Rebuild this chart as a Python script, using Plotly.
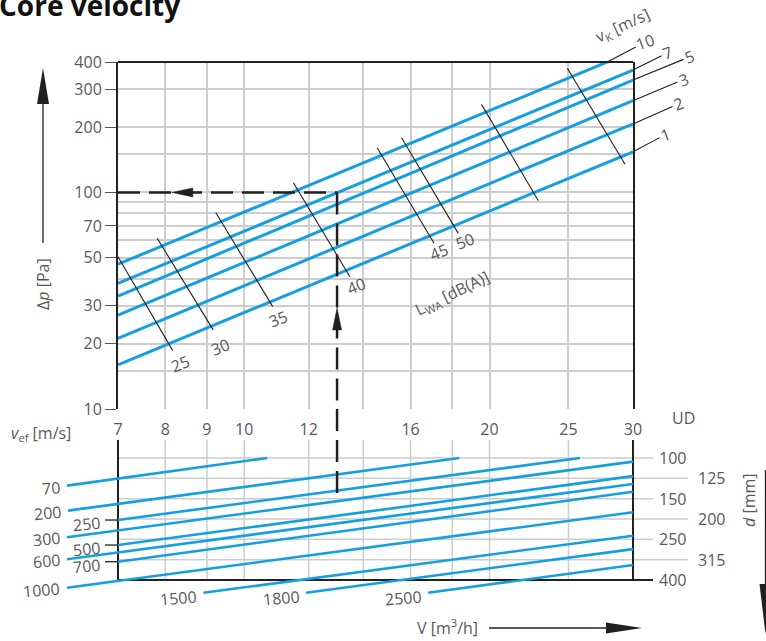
import math
import plotly.graph_objects as go

# ------------------------------------------------------------------ data
# upper diagram: pressure drop over effective velocity, lines of core velocity vK
vk_values = [1, 2, 3, 5, 7, 10]
vk_dp_at_v7 = [16.0, 21.2, 27.1, 33.2, 38.0, 46.6]
vk_dp_at_v30 = [154, 207, 265, 330, 367, 448]
v_line_ends = [7, 30]

# sound power level lines LWA [dB(A)]
lwa_levels = [25, 30, 35, 40, 45, 50, 55, 60]
lwa_show_label = [True, True, True, True, True, True, False, False]
lwa_v_start = [7.0, 7.82, 9.23, 11.49, 14.56, 15.60, 19.55, 24.92]
lwa_dp_start = [50.5, 61.4, 80.6, 110.9, 160.9, 178.9, 255.0, 374.0]
lwa_v_end = [8.17, 9.16, 10.84, 13.48, 17.10, 18.31, 22.96, 29.33]
lwa_dp_end = [18.6, 23.2, 29.7, 40.8, 58.2, 64.7, 91.6, 134.8]

x_tick_vals = [7, 8, 9, 10, 12, 16, 20, 25, 30]
x_minor_vals = [14, 18]
y_tick_vals = [10, 20, 30, 50, 70, 100, 200, 300, 400]
y_minor_vals = [15, 40, 60, 80, 90, 150]

# lower diagram: duct diameter rows and volume-flow lines V [m3/h]
d_labels = [100, 125, 150, 200, 250, 315, 400]
flow_values = [70, 200, 250, 300, 500, 600, 700, 1000, 1500, 1800, 2500]
flow_v_start = [6.06, 6.08, 7.0, 6.06, 7.0, 6.06, 7.0, 6.06, 8.91, 11.91, 16.82]
flow_row_start = [1.36, 2.59, 3.05, 3.90, 4.28, 4.98, 5.10, 6.38, 6.63, 6.63, 6.63]
flow_v_end = [10.67, 18.36, 25.83, 30, 30, 30, 30, 30, 30, 30, 30]
flow_row_end = [0, 0, 0, 0.18, 0.89, 1.28, 1.66, 2.67, 3.82, 4.48, 5.26]
flow_label_kind = ['outer', 'outer', 'inner', 'outer', 'inner', 'outer',
                   'inner', 'outer', 'below', 'below', 'below']

# worked example
example_v = 13
example_dp = 100
example_row = 2.02
arrow_left_tip_v = 8.15
arrow_up_tip_dp = 29.3

# ------------------------------------------------------------------ layout geometry
W, H = 766, 641
TX0, TX1, TY0, TY1 = 118, 633, 62, 409
BX0, BX1, BY0, BY1 = 40, 720, 409, 605
ROW0_Y, ROW_STEP = 458, 20.333
LOW_FRAME_TOP = 440

L10 = math.log10
dec_x = (L10(30) - L10(7)) / (TX1 - TX0)
dec_y = (L10(400) - L10(10)) / (TY1 - TY0)


def px(x):
    return x / W


def py(y):
    return 1 - y / H


def v_off(v, dx):
    return v * 10 ** (dx * dec_x)


def p_off(p, dy):
    return p * 10 ** (-dy * dec_y)


def row_of(ypix):
    return (ypix - ROW0_Y) / ROW_STEP


BLUE = '#159fe0'
INK = '#231f20'
TXT = '#58595b'
GRID = '#cdcdcd'
FONT = 'Open Sans'

fig = go.Figure()


def line(xs, ys, color, width, xa='x', ya='y', dash=None):
    fig.add_trace(go.Scatter(x=xs, y=ys, mode='lines',
                             line=dict(color=color, width=width, dash=dash),
                             xaxis=xa, yaxis=ya, hoverinfo='skip', showlegend=False))


def tri(xs, ys, xa='x', ya='y'):
    fig.add_trace(go.Scatter(x=xs + [xs[0]], y=ys + [ys[0]], mode='lines', fill='toself',
                             fillcolor=INK, line=dict(color=INK, width=0.5),
                             xaxis=xa, yaxis=ya, hoverinfo='skip', showlegend=False))


# ------------------------------------------------------------------ lower diagram
row_top = row_of(LOW_FRAME_TOP)
last_row = len(d_labels) - 1
for v in x_tick_vals[1:-1] + x_minor_vals:
    line([v, v], [row_top, last_row], GRID, 1.5, 'x2', 'y2')
for i in range(last_row):
    ext = 20 if i % 2 == 0 else 55
    line([7, v_off(30, ext)], [i, i], GRID, 1.5, 'x2', 'y2')
line([7, 7], [row_top, last_row], INK, 2, 'x2', 'y2')
line([30, 30], [row_top, last_row], INK, 2, 'x2', 'y2')
line([7, v_off(30, 20)], [last_row, last_row], INK, 2, 'x2', 'y2')

for V, vs, rs, ve, re_, kind in zip(flow_values, flow_v_start, flow_row_start,
                                     flow_v_end, flow_row_end, flow_label_kind):
    if kind == 'inner':
        line([v_off(7, -13), 7], [rs, rs], INK, 1.3, 'x2', 'y2')
    line([vs, ve], [rs, re_], BLUE, 2.6, 'x2', 'y2')

line([example_v, example_v], [row_of(BY0), example_row], INK, 2.5, 'x2', 'y2', dash='22px,9px')

# ------------------------------------------------------------------ upper diagram
for vk, a, b in zip(vk_values, vk_dp_at_v7, vk_dp_at_v30):
    line(v_line_ends, [a, b], BLUE, 3)
for vs, ps, ve, pe in zip(lwa_v_start, lwa_dp_start, lwa_v_end, lwa_dp_end):
    line([vs, ve], [ps, pe], INK, 1.1)

line([7, example_v], [example_dp, example_dp], INK, 2.5, dash='22px,9px')
line([example_v, example_v], [example_dp, 9], INK, 2.5, dash='22px,9px')
tri([arrow_left_tip_v, v_off(arrow_left_tip_v, 21), v_off(arrow_left_tip_v, 21)],
    [example_dp, p_off(example_dp, -4.5), p_off(example_dp, 4.5)])
tri([example_v, v_off(example_v, -4.5), v_off(example_v, 4.5)],
    [arrow_up_tip_dp, p_off(arrow_up_tip_dp, 22), p_off(arrow_up_tip_dp, 22)])

# ------------------------------------------------------------------ annotations
ann = []


def text(x, y, s, size=16, color=TXT, angle=0, xanchor='center', yanchor='middle',
         xref='paper', yref='paper', xshift=0, yshift=0):
    ann.append(dict(x=x, y=y, text=s, xref=xref, yref=yref, showarrow=False,
                    font=dict(family=FONT, size=size, color=color), textangle=angle,
                    xanchor=xanchor, yanchor=yanchor, xshift=xshift, yshift=yshift))


# title
text(px(-3), py(5), '<b>Core velocity</b>', size=28, color='#111111', xanchor='left')

# vK leader lines and labels
slope10 = math.log(vk_dp_at_v30[-1] / vk_dp_at_v7[-1]) / math.log(30 / 7)
v10_top = 7 * (400 / vk_dp_at_v7[-1]) ** (1 / slope10)
leader_off = {10: (38, -20), 7: (34, -17), 5: (56, -23), 3: (50, -21), 2: (45, -20), 1: (32, -17)}
for vk, b in zip(vk_values, vk_dp_at_v30):
    xv, yv = (v10_top, 400) if b > 400 else (30, b)
    dx, dy = leader_off[vk]
    ann.append(dict(x=L10(xv), y=L10(yv), xref='x', yref='y', text=str(vk), showarrow=True,
                    arrowhead=0, arrowwidth=1.1, arrowcolor=INK, ax=dx, ay=dy,
                    font=dict(family=FONT, size=16, color=TXT), textangle=-20))
text(px(623), py(26), 'v<sub>K</sub> [m/s]', angle=-25)

# LWA labels
lwa_off = {25: (7, 13), 30: (7, 17), 35: (5, 12), 40: (6, 9), 45: (5, 9), 50: (7, 8)}
for lv, show, ve, pe in zip(lwa_levels, lwa_show_label, lwa_v_end, lwa_dp_end):
    if show:
        dx, dy = lwa_off[lv]
        text(L10(ve), L10(pe), str(lv), angle=-22, xref='x', yref='y', xshift=dx, yshift=-dy)
text(L10(17.99), L10(34.3), 'L<sub>WA</sub> [dB(A)]', angle=-26, xref='x', yref='y')

# flow labels
for V, vs, rs, kind in zip(flow_values, flow_v_start, flow_row_start, flow_label_kind):
    if kind == 'outer':
        text(L10(vs), rs, str(V), xanchor='right', xref='x2', yref='y2', xshift=-4, yshift=-2, angle=-5)
    elif kind == 'inner':
        text(L10(v_off(7, -13)), rs, str(V), xanchor='right', xref='x2', yref='y2', xshift=-2, yshift=-4, angle=-5)
    else:
        text(L10(vs), rs, str(V), xanchor='right', xref='x2', yref='y2', xshift=-3, yshift=-5, angle=-5)

# diameter labels
for i, d in enumerate(d_labels):
    xl = 672 if i % 2 == 0 else 711
    text(px(xl), i, str(d), xref='paper', yref='y2')

# axis captions
text(px(43), py(284), '\u0394<i>p</i> [Pa]', angle=-90)
text(px(41), py(433), '<i>v</i><sub>ef</sub> [m/s]')
text(px(683), py(418), 'UD')
text(px(749), py(500), '<i>d</i> [mm]', angle=-90)
text(px(447), py(627), 'V [m<sup>3</sup>/h]')

# big arrows
shapes = [
    dict(type='line', xref='x domain', yref='y domain', x0=0, x1=1, y0=1, y1=1,
         line=dict(color=INK, width=2)),
    dict(type='line', xref='paper', yref='paper', x0=px(43), x1=px(43), y0=py(243), y1=py(100),
         line=dict(color=INK, width=1.3)),
    dict(type='path', xref='paper', yref='paper', fillcolor=INK, line=dict(width=0),
         path=f'M{px(43)},{py(68)} L{px(49)},{py(104)} L{px(37)},{py(104)} Z'),
    dict(type='line', xref='paper', yref='paper', x0=px(765.5), x1=px(765.5), y0=py(470), y1=py(590),
         line=dict(color=INK, width=1.3)),
    dict(type='path', xref='paper', yref='paper', fillcolor=INK, line=dict(width=0),
         path=f'M{px(765.5)},{py(634)} L{px(771.5)},{py(584)} L{px(759.5)},{py(584)} Z'),
    dict(type='line', xref='paper', yref='paper', x0=px(489), x1=px(610), y0=py(628), y1=py(628),
         line=dict(color=INK, width=1.3)),
    dict(type='path', xref='paper', yref='paper', fillcolor=INK, line=dict(width=0),
         path=f'M{px(642)},{py(628)} L{px(606)},{py(622.5)} L{px(606)},{py(633.5)} Z'),
]

fig.update_layout(
    width=W, height=H, autosize=False,
    margin=dict(l=0, r=0, t=0, b=0, pad=0),
    paper_bgcolor='white', plot_bgcolor='rgba(0,0,0,0)',
    showlegend=False, hovermode=False,
    font=dict(family=FONT, size=16, color=TXT),
    annotations=ann, shapes=shapes,
    xaxis=dict(type='log', range=[L10(7), L10(30)], domain=[px(TX0), px(TX1)], anchor='y',
               tickvals=x_tick_vals, ticktext=[str(v) for v in x_tick_vals],
               ticks='', showline=False, zeroline=False,
               showgrid=True, gridcolor=GRID, gridwidth=1.5,
               minor=dict(tickvals=x_minor_vals, showgrid=True, gridcolor=GRID, gridwidth=1.5, ticks=''),
               tickfont=dict(family=FONT, size=16, color=TXT), automargin=False,
               ticklabelstandoff=9),
    yaxis=dict(type='log', range=[1, L10(400)], domain=[py(TY1), py(TY0)], anchor='x',
               tickvals=y_tick_vals, ticktext=[str(v) for v in y_tick_vals],
               ticks='outside', ticklen=11, tickcolor='#555555', tickwidth=1.2,
               showline=True, mirror=True, linecolor=INK, linewidth=2, zeroline=False,
               showgrid=True, gridcolor=GRID, gridwidth=1.5,
               minor=dict(tickvals=y_minor_vals, showgrid=True, gridcolor=GRID, gridwidth=1.5, ticks=''),
               tickfont=dict(family=FONT, size=16, color=TXT), automargin=False),
    xaxis2=dict(type='log', domain=[px(BX0), px(BX1)], anchor='y2',
                range=[L10(7) - (TX0 - BX0) * dec_x, L10(30) + (BX1 - TX1) * dec_x],
                visible=False),
    yaxis2=dict(domain=[py(BY1), py(BY0)], anchor='x2',
                range=[row_of(BY1), row_of(BY0)], visible=False),
)

fig.write_html('out.html')
